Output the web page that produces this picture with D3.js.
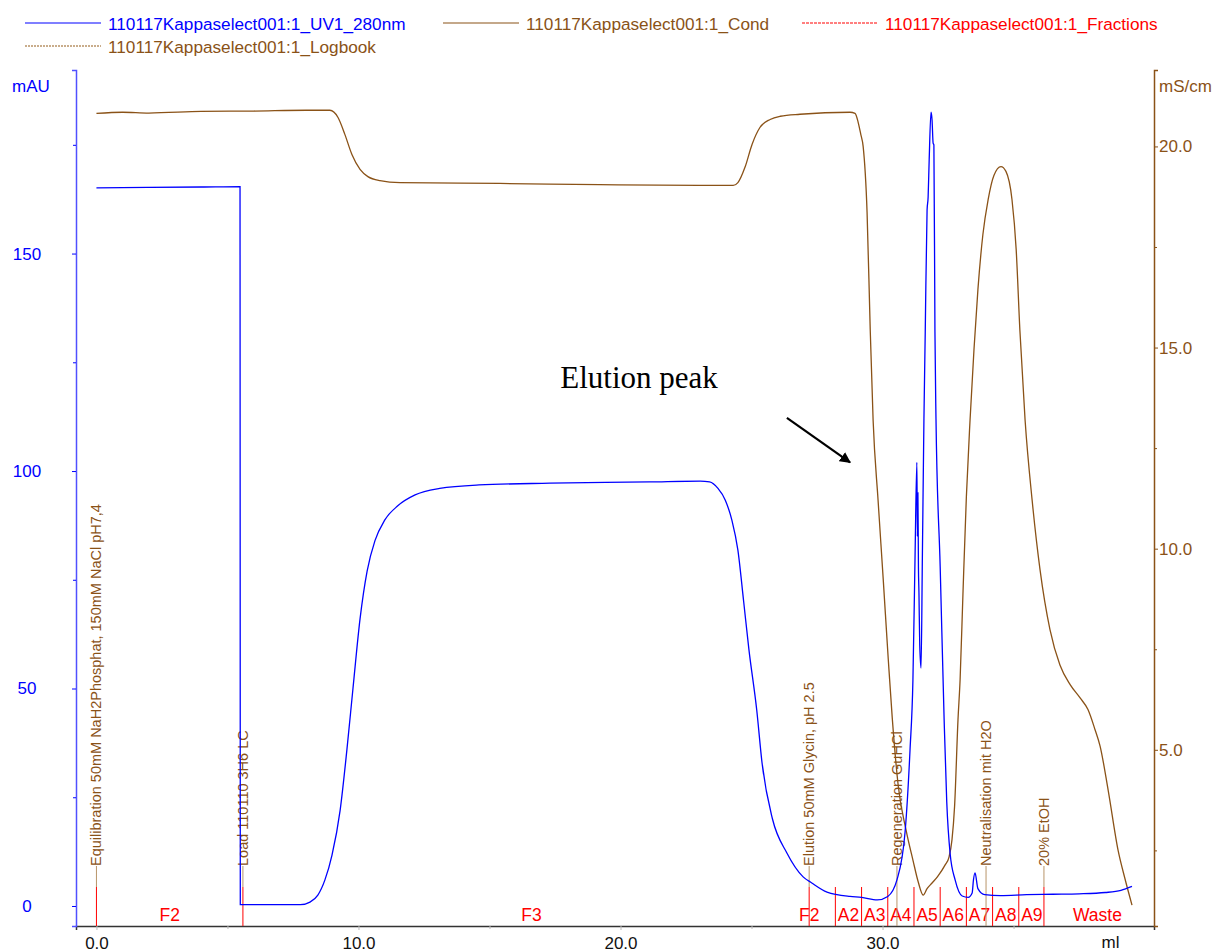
<!DOCTYPE html>
<html>
<head>
<meta charset="utf-8">
<script src="https://cdn.jsdelivr.net/npm/d3@7"></script>
<style>
  body { margin: 0; background: #fff; }
  svg text { font-family: "Liberation Sans", Arial, sans-serif; }
</style>
</head>
<body>
<div id="chart"></div>
<script>
var width = 1215;
var height = 952;

// UV 280nm trace (ml, mAU)
var uvMl = [0, 2, 4, 5.48, 5.49, 6.5, 7.78, 8.15, 8.45, 8.72, 8.99, 9.3, 9.56, 9.79, 10.06, 10.33, 10.63, 11.0, 11.5, 12.16, 13.1, 14.6, 17.3, 21.1, 23.04, 23.4, 23.72, 24.0, 24.25, 24.48, 24.7, 24.9, 25.2, 25.4, 25.8, 26.35, 26.97, 27.3, 27.88, 28.76, 29.2, 29.8, 30.2, 30.55, 30.86, 31.05, 31.16, 31.24, 31.31, 31.33, 31.35, 31.37, 31.39, 31.42, 31.47, 31.52, 31.58, 31.63, 31.7, 31.74, 31.78, 31.85, 31.89, 31.93, 31.96, 32.0, 32.04, 32.2, 32.35, 32.45, 32.58, 32.77, 33.04, 33.27, 33.42, 33.47, 33.53, 33.64, 33.9, 34.5, 35.5, 36.5, 37.5, 38.5, 39.1, 39.52];
var uvMau = [165.1, 165.2, 165.3, 165.4, 0.3, 0.3, 0.3, 0.9, 2.5, 6, 11.7, 22, 36, 50, 66, 77, 84, 88.7, 92, 94.5, 96, 96.8, 97.2, 97.5, 97.7, 97.5, 96, 93.3, 88.7, 81.8, 70, 59, 45, 33, 20, 12.2, 6.7, 5.3, 3.2, 2.2, 2, 1.4, 2.2, 6, 17, 36, 52, 80, 102, 85, 95, 78, 72, 60, 54.7, 80, 112, 132, 160, 163, 171.5, 182.5, 180.7, 175.4, 175, 132, 112, 78, 43, 24, 12, 6, 2.3, 2, 3, 6, 7.6, 4, 2.6, 2.4, 2.6, 2.7, 2.8, 3.1, 3.6, 4.5];

// Conductivity trace (ml, mS/cm)
var condMl = [0, 1, 2, 4, 6, 8, 8.91, 9.22, 9.48, 9.75, 10.06, 10.36, 10.82, 11.59, 15.4, 19.2, 23.0, 24.3, 24.48, 24.75, 25.02, 25.32, 25.71, 26.1, 26.85, 28.76, 28.95, 29.07, 29.17, 29.26, 29.41, 29.53, 29.64, 29.83, 30.03, 30.22, 30.37, 30.6, 30.9, 31.16, 31.36, 31.55, 31.7, 31.89, 32.1, 32.39, 32.54, 32.65, 32.75, 32.88, 32.96, 33.07, 33.2, 33.34, 33.49, 33.64, 33.83, 34.03, 34.25, 34.52, 34.71, 34.94, 35.1, 35.24, 35.44, 35.71, 36.01, 36.39, 36.77, 37.16, 37.54, 37.84, 38.11, 38.3, 38.61, 38.99, 39.25, 39.52];
var condMs = [20.82, 20.85, 20.83, 20.87, 20.88, 20.9, 20.9, 20.72, 20.3, 19.8, 19.43, 19.25, 19.15, 19.1, 19.08, 19.05, 19.03, 19.03, 19.1, 19.48, 20.05, 20.47, 20.67, 20.75, 20.8, 20.85, 20.82, 20.6, 20.3, 20.0, 18.36, 15.45, 13.2, 11.2, 9.2, 7.24, 5.8, 4.1, 3.0, 2.26, 1.72, 1.39, 1.55, 1.69, 1.85, 2.14, 2.34, 2.76, 3.6, 5.75, 6.74, 8.9, 11.3, 13.2, 14.95, 16.44, 17.81, 18.68, 19.28, 19.5, 19.38, 18.68, 17.44, 15.45, 13.2, 11.2, 9.48, 7.99, 7.11, 6.62, 6.29, 6.0, 5.5, 5.1, 4.0, 2.5, 1.8, 1.14];

// Logbook events
var logMl = [0, 5.59, 27.2, 30.55, 33.95, 36.16];
var logText = [
  "Equilibration 50mM NaH2Phosphat, 150mM NaCl pH7,4",
  "Load 110110 3H6 LC",
  "Elution 50mM Glycin, pH 2.5",
  "Regeneration GuHCl",
  "Neutralisation mit H2O",
  "20% EtOH"
];

// Fractions
var fracMl = [0, 5.59, 27.2, 28.2, 29.2, 30.2, 31.2, 32.2, 33.2, 34.2, 35.2, 36.16];
var fracLabel = ["F2", "F3", "F2", "A2", "A3", "A4", "A5", "A6", "A7", "A8", "A9", "Waste"];
var fracLabelMl = [2.8, 16.6, 27.2, 28.7, 29.7, 30.7, 31.7, 32.7, 33.7, 34.7, 35.7, 38.2];

// Axis ticks
var xTicks = [0, 10, 20, 30];
var xMinor = [5, 15, 25, 35];
var uvTicks = [0, 50, 100, 150];
var uvMinor = [25, 75, 125, 175];
var condTicks = [5, 10, 15, 20];
var condMinor = [2.5, 7.5, 12.5, 17.5];

var legendItems = [
  { name: "110117Kappaselect001:1_UV1_280nm", color: "#0000ff" },
  { name: "110117Kappaselect001:1_Cond", color: "#8a5217" },
  { name: "110117Kappaselect001:1_Fractions", color: "#ff0000" },
  { name: "110117Kappaselect001:1_Logbook", color: "#8a5217" }
];

var blue = "#0000ff";
var brown = "#8a5217";
var red = "#ff0000";
var tan = "#b8956a";

var plotLeft = 76, plotRight = 1154, plotTop = 70, plotBottom = 926;

var x = d3.scaleLinear().domain([-0.78, 40.36]).range([plotLeft, plotRight]);
var yUV = d3.scaleLinear().domain([-4.6, 192.2]).range([plotBottom, plotTop]);
var yCond = d3.scaleLinear().domain([0.62, 21.9]).range([plotBottom, plotTop]);

var svg = d3.select("#chart")
  .append("svg")
  .attr("width", width)
  .attr("height", height);

// legend
var legendPos = [[25, 23], [443, 23], [802, 23], [25, 46]];
legendItems.forEach(function(d, i) {
  var p = legendPos[i];
  var ln = svg.append("line")
    .attr("x1", p[0]).attr("x2", p[0] + 76)
    .attr("y1", p[1]).attr("y2", p[1])
    .attr("stroke", i == 3 ? "#c9ad8c" : d.color)
    .attr("stroke-width", i == 3 ? 2 : 1.2);
  if (i == 3) ln.attr("stroke-dasharray", "2,1");
  if (i == 2) ln.attr("stroke-dasharray", "3,1");
  svg.append("text")
    .attr("x", p[0] + 83)
    .attr("y", p[1] + 7)
    .attr("fill", d.color)
    .attr("font-size", "17.2px")
    .text(d.name);
});

// axes
var gx = svg.append("g").attr("transform", "translate(0," + plotBottom + ")");
gx.call(d3.axisBottom(x).tickValues(xTicks).tickSize(4).tickFormat(d3.format(".1f")));
gx.selectAll(".domain").attr("stroke", "#333").attr("stroke-width", 1.5);
var gxMinor = gx.append("g").call(d3.axisBottom(x).tickValues(xMinor).tickSize(3).tickFormat(""));
gxMinor.select(".domain").remove();
gx.selectAll(".tick line").attr("stroke", "#bbb");
gx.selectAll(".tick text")
  .attr("fill", "#111")
  .attr("font-size", "17px")
  .attr("dy", "0.95em");
gx.append("text")
  .attr("x", x(38.7)).attr("y", 22)
  .attr("fill", "#111").attr("font-size", "17px")
  .attr("text-anchor", "middle")
  .text("ml");

var gl = svg.append("g").attr("transform", "translate(" + plotLeft + ",0)");
gl.call(d3.axisLeft(yUV).tickValues(uvTicks).tickSize(4).tickFormat(d3.format("d")));
gl.selectAll(".domain").attr("stroke", "#5050ff").attr("stroke-width", 1.5);
var glMinor = gl.append("g").call(d3.axisLeft(yUV).tickValues(uvMinor).tickSize(3).tickFormat(""));
glMinor.select(".domain").remove();
gl.selectAll(".tick line").attr("stroke", blue);
gl.selectAll(".tick text")
  .attr("fill", blue)
  .attr("font-size", "17px")
  .attr("text-anchor", "middle")
  .attr("x", -49);
svg.append("text")
  .attr("x", 12).attr("y", 92)
  .attr("fill", blue).attr("font-size", "17px")
  .text("mAU");

var gr = svg.append("g").attr("transform", "translate(" + plotRight + ",0)");
gr.call(d3.axisRight(yCond).tickValues(condTicks).tickSize(4).tickFormat(d3.format(".1f")));
gr.selectAll(".domain").attr("stroke", brown).attr("stroke-width", 1.5);
var grMinor = gr.append("g").call(d3.axisRight(yCond).tickValues(condMinor).tickSize(3).tickFormat(""));
grMinor.select(".domain").remove();
gr.selectAll(".tick line").attr("stroke", brown);
gr.selectAll(".tick text")
  .attr("fill", brown)
  .attr("font-size", "17px")
  .attr("x", 5);
svg.append("text")
  .attr("x", 1159).attr("y", 92)
  .attr("fill", brown).attr("font-size", "17px")
  .text("mS/cm");

// fractions
svg.selectAll(".frac")
  .data(fracMl)
  .enter()
  .append("line")
    .attr("class", "frac")
    .attr("x1", function(d) { return x(d); })
    .attr("x2", function(d) { return x(d); })
    .attr("y1", plotBottom)
    .attr("y2", plotBottom - 39)
    .attr("stroke", red)
    .attr("stroke-width", 1);

svg.selectAll(".fracLabel")
  .data(fracLabel)
  .enter()
  .append("text")
    .attr("class", "fracLabel")
    .attr("x", function(d, i) { return x(fracLabelMl[i]); })
    .attr("y", plotBottom - 5)
    .attr("text-anchor", "middle")
    .attr("fill", red)
    .attr("font-size", "17.5px")
    .text(function(d) { return d; });

// logbook
svg.selectAll(".logLine")
  .data(logMl)
  .enter()
  .append("line")
    .attr("class", "logLine")
    .attr("x1", function(d) { return x(d); })
    .attr("x2", function(d) { return x(d); })
    .attr("y1", function(d) { return fracMl.indexOf(d) >= 0 ? plotBottom - 39 : plotBottom; })
    .attr("y2", plotBottom - 60)
    .attr("stroke", tan)
    .attr("stroke-width", 1);

svg.selectAll(".logText")
  .data(logText)
  .enter()
  .append("text")
    .attr("class", "logText")
    .attr("transform", function(d, i) {
      return "translate(" + (x(logMl[i]) + 5) + "," + (plotBottom - 60) + ") rotate(-90)";
    })
    .attr("fill", brown)
    .attr("font-size", "14.5px")
    .text(function(d) { return d; });

// traces
var uvLine = d3.line()
  .x(function(d) { return x(d[0]); })
  .y(function(d) { return yUV(d[1]); })
  .curve(d3.curveMonotoneX);

var condLine = d3.line()
  .x(function(d) { return x(d[0]); })
  .y(function(d) { return yCond(d[1]); })
  .curve(d3.curveMonotoneX);

svg.append("path")
  .datum(condMl.map(function(d, i) { return [d, condMs[i]]; }))
  .attr("d", condLine)
  .attr("fill", "none")
  .attr("stroke", brown)
  .attr("stroke-width", 1.3);

svg.append("path")
  .datum(uvMl.map(function(d, i) { return [d, uvMau[i]]; }))
  .attr("d", uvLine)
  .attr("fill", "none")
  .attr("stroke", blue)
  .attr("stroke-width", 1.3);

// annotation
svg.append("defs").append("marker")
  .attr("id", "arrow")
  .attr("viewBox", "0 0 10 10")
  .attr("refX", 9).attr("refY", 5)
  .attr("markerWidth", 5).attr("markerHeight", 5)
  .attr("orient", "auto")
  .append("path")
    .attr("d", "M0,0 L10,5 L0,10 z")
    .attr("fill", "#000");

svg.append("text")
  .attr("x", x(17.7))
  .attr("y", yUV(119))
  .style("font-family", "'Liberation Serif', 'Times New Roman', serif")
  .attr("font-size", "31px")
  .attr("fill", "#000")
  .text("Elution peak");

svg.append("line")
  .attr("x1", x(26.35)).attr("y1", yUV(112.2))
  .attr("x2", x(28.76)).attr("y2", yUV(102))
  .attr("stroke", "#000")
  .attr("stroke-width", 2.2)
  .attr("marker-end", "url(#arrow)");
</script>
</body>
</html>
